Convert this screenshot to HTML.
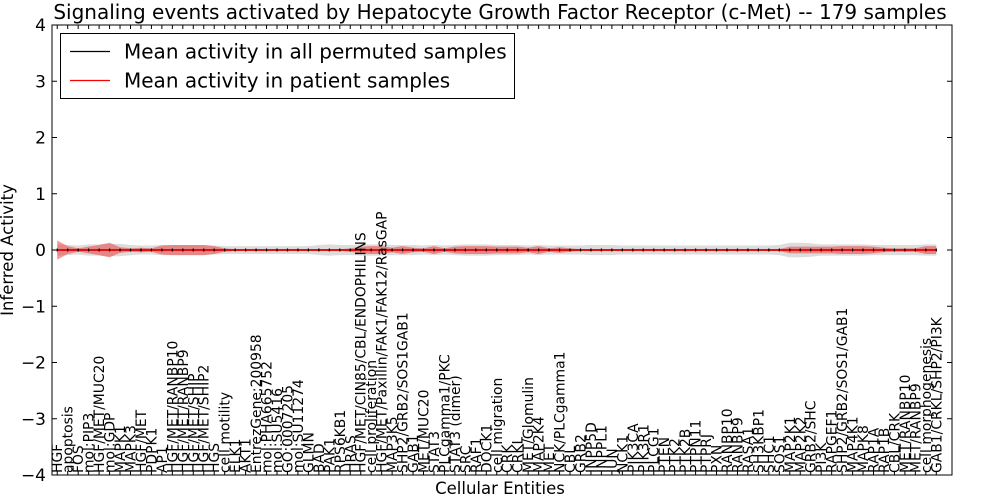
<!DOCTYPE html>
<html><head><meta charset="utf-8"><style>
body{margin:0;background:#fff;}
svg{display:block;font-family:"DejaVu Sans","Liberation Sans",sans-serif;}
</style></head><body>
<svg id="chart" width="1000" height="500" xmlns="http://www.w3.org/2000/svg"></svg>
<script>
const categories=["HGF","apoptosis","FOS","mol:PIP3","HGF/MET/MUC20","mol:GDP","MAPK1","MAPK3","HGF/MET","PDPK1","AP1","HGF/MET/RANBP10","HGF/MET/RANBP9","HGF/MET/SHIP","HGF/MET/SHIP2","HGS","cell motility","ELK1","AKT1","EntrezGene:200958","mol:PHA665752","mol:SU5416","GO:0007205","mol:SU11274","GLMN","BAD","PAK1","RPS6KB1","HRAS","HGF/MET/CIN85/CBL/ENDOPHILINS","cell proliferation","HGF/MET/Paxillin/FAK1/FAK12/RasGAP","MAP3K5","SHP2/GRB2/SOS1GAB1","GAB1","MET/MUC20","STAT3","PLCgamma1/PKC","STAT3 (dimer)","SRC","RAF1","DOCK1","cell migration","CRK","CRKL","MET/Glomulin","MAP2K4","MET","NCK/PLCgamma1","CBL","GRB2","INPP5D","INPPL1","JUN","NCK1","PIK3CA","PIK3R1","PLCG1","PTEN","PTK2","PTK2B","PTPN11","PTPRJ","PXN","RANBP10","RANBP9","RASA1","SH3KBP1","SHC1","SOS1","MAP2K1","MAP2K2","GRB2/SHC","PI3K","RAPGEF1","SHP2/GRB2/SOS1/GAB1","MAP4K1","MAPK8","RAP1A","RAP1B","CBL/CRK","MET/RANBP10","MET/RANBP9","cell morphogenesis","GAB1/CRKL/SHP2/PI3K"];
const patientMean=categories.map(()=>0);
const permMean=categories.map(()=>0);
const patientSd=[0.17,0.07,0.03,0.06,0.09,0.13,0.05,0.03,0.04,0.03,0.08,0.09,0.09,0.09,0.09,0.07,0.03,0.015,0.015,0.015,0.015,0.015,0.015,0.015,0.015,0.015,0.015,0.015,0.03,0.06,0.07,0.07,0.04,0.07,0.04,0.03,0.07,0.03,0.06,0.07,0.07,0.07,0.06,0.06,0.06,0.04,0.07,0.03,0.05,0.03,0.015,0.015,0.015,0.015,0.015,0.015,0.015,0.015,0.015,0.015,0.015,0.015,0.015,0.015,0.015,0.015,0.015,0.015,0.015,0.015,0.06,0.06,0.06,0.06,0.06,0.07,0.07,0.07,0.06,0.04,0.03,0.03,0.03,0.07,0.07];
const permSd=[0.1,0.09,0.08,0.1,0.1,0.11,0.11,0.09,0.08,0.08,0.09,0.09,0.09,0.09,0.09,0.08,0.07,0.07,0.07,0.07,0.07,0.07,0.07,0.07,0.07,0.09,0.1,0.09,0.09,0.1,0.1,0.1,0.09,0.09,0.09,0.08,0.09,0.08,0.09,0.1,0.1,0.1,0.09,0.09,0.09,0.08,0.09,0.08,0.08,0.08,0.08,0.09,0.09,0.09,0.08,0.08,0.08,0.08,0.08,0.08,0.08,0.08,0.08,0.08,0.08,0.08,0.08,0.08,0.08,0.09,0.13,0.13,0.12,0.1,0.1,0.1,0.1,0.1,0.09,0.09,0.09,0.09,0.09,0.1,0.1];
const yTicks=[-4,-3,-2,-1,0,1,2,3,4];

const svg=document.getElementById('chart');
const NS="http://www.w3.org/2000/svg";
const L=52,R=952,T=25,B=475;
const n=categories.length;
const xs=i=>L+(i+0.5)*(R-L)/(n+1);
const ys=v=>T+(4-v)/8*(B-T);
function el(t,a,p){const e=document.createElementNS(NS,t);for(const k in a)e.setAttribute(k,a[k]);(p||svg).appendChild(e);return e;}

function band(mean,sd,fill,name){
  let top=mean.map((m,i)=>xs(i)+','+ys(m+sd[i]));
  let bot=mean.map((m,i)=>xs(i)+','+ys(m-sd[i])).reverse();
  const p=el('polygon',{points:top.concat(bot).join(' '),fill:fill,stroke:'none'});
  
  
}
band(permMean,permSd,'rgba(185,185,185,0.5)','permuted-band');
band(patientMean,patientSd,'rgba(235,50,50,0.5)','patient-band');
function line(mean,color,name){
  const p=el('polyline',{points:mean.map((m,i)=>xs(i)+','+ys(m)).join(' '),fill:'none',stroke:color,'stroke-width':1.5});
  
  
}
line(permMean,'#000000','permuted-line');
line(patientMean,'#ff0000','patient-line');
permMean.forEach((m,i)=>{
  const t=el('line',{x1:xs(i),x2:xs(i),y1:ys(m)-1.5,y2:ys(m)+1.5,stroke:'#000','stroke-width':1.2});
  
  
});

const fr=el('rect',{x:L,y:T,width:R-L,height:B-T,fill:'none',stroke:'#000','stroke-width':1});


yTicks.forEach(v=>{
  const y=ys(v);
  el('line',{x1:L,x2:L+5,y1:y,y2:y,stroke:'#000'});
  el('line',{x1:R,x2:R-5,y1:y,y2:y,stroke:'#000'});
  const t=el('text',{x:L-6,y:y+6,'text-anchor':'end','font-size':17});
  t.textContent=(v<0?'\u2212':'')+Math.abs(v);
  
  
});
categories.forEach((c,i)=>{
  const x=xs(i);
  el('line',{x1:x,x2:x,y1:B,y2:B-4,stroke:'#000'});
  el('line',{x1:x,x2:x,y1:T,y2:T+4,stroke:'#000'});
  const t=el('text',{transform:`translate(${x+5},${B-2}) rotate(-90)`,'font-size':13.9});
  t.textContent=c;
  
  
});
const title=el('text',{x:500,y:19,'text-anchor':'middle','font-size':20});
title.textContent='Signaling events activated by Hepatocyte Growth Factor Receptor (c-Met) -- 179 samples';


const xl=el('text',{x:500,y:494,'text-anchor':'middle','font-size':16.5});
xl.textContent='Cellular Entities';


const yl=el('text',{transform:'translate(13,250) rotate(-90)','text-anchor':'middle','font-size':16.5});
yl.textContent='Inferred Activity';



const lg=el('g',{});


el('rect',{x:60.5,y:33.5,width:454,height:65,fill:'#fff',stroke:'#000'},lg);
[['Mean activity in all permuted samples','#000',51.5],['Mean activity in patient samples','#ff0000',80.5]].forEach(([txt,c,y],k)=>{
  const g=el('g',{},lg);
  
  
  el('line',{x1:70,x2:110,y1:y,y2:y,stroke:c,'stroke-width':1.3},g);
  const t=el('text',{x:124,y:y+7,'font-size':20},g);
  t.textContent=txt;
});
</script>
</body></html>
